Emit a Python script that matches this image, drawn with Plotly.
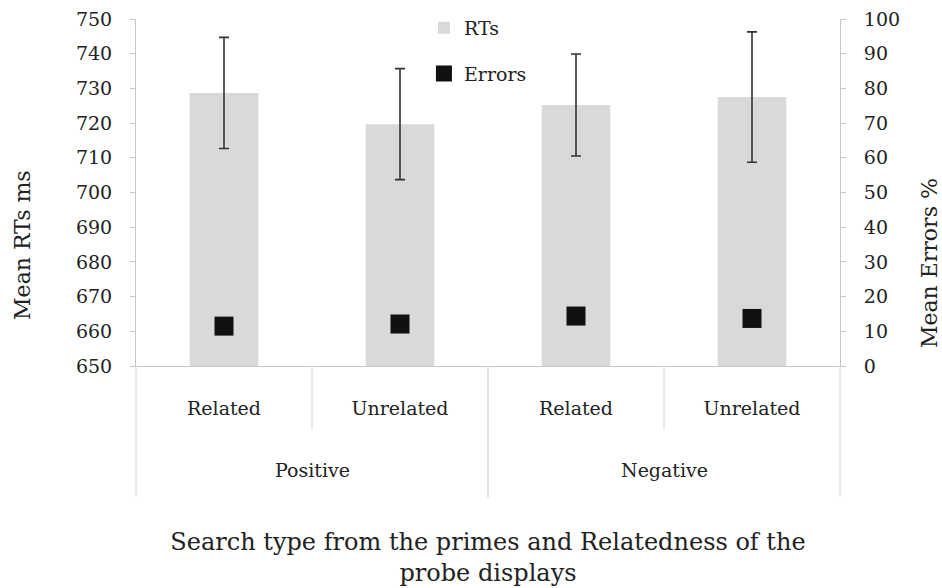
import plotly.graph_objects as go

# Conditions: search type of the primes (outer) and probe relatedness (inner)
search_type = ["Positive", "Positive", "Negative", "Negative"]
relatedness = ["Related", "Unrelated", "Related", "Unrelated"]

# Mean reaction times (ms) with error-bar half lengths
rt_means = [728.7, 719.7, 725.2, 727.5]
rt_err = [16.0, 16.0, 14.7, 18.8]

# Mean error rates (%)
error_rates = [11.5, 12.1, 14.4, 13.7]

rt_ticks = list(range(650, 751, 10))
err_ticks = list(range(0, 101, 10))

FONT = "DejaVu Serif"
TEXT = "#222222"
AXIS = "#c4c4c4"
DIV = "#d6d6d6"

pos = list(range(len(relatedness)))
n = len(pos)

fig = go.Figure()

fig.add_trace(go.Bar(
    x=pos, y=rt_means, name="RTs",
    marker=dict(color="#d9d9d9", line=dict(width=0)),
    width=0.39,
    error_y=dict(type="data", array=rt_err, color="#333333",
                 thickness=1.6, width=5),
    legendgroup="rt",
))

fig.add_trace(go.Scatter(
    x=pos, y=error_rates, name="Errors", yaxis="y2",
    mode="markers",
    marker=dict(symbol="square", size=19, color="#111111"),
    legendgroup="err",
))

# group labels (search type) centred under their pair of conditions
groups = []
for i, g in enumerate(search_type):
    if not groups or groups[-1][0] != g:
        groups.append([g, i, i])
    else:
        groups[-1][2] = i

annotations = []
shapes = []
for g, i0, i1 in groups:
    annotations.append(dict(
        text=g, x=(i0 + i1) / 2, xref="x", y=-0.30, yref="paper",
        showarrow=False, xanchor="center", yanchor="middle",
        font=dict(family=FONT, size=19, color=TEXT)))
    # full-height dividers at group edges
    for edge in (i0, i1 + 1):
        shapes.append(dict(type="line", xref="paper", yref="paper",
                           x0=edge / n, x1=edge / n, y0=0, y1=-0.378,
                           line=dict(color=DIV, width=1)))
    # short dividers between conditions inside a group
    for k in range(i0 + 1, i1 + 1):
        shapes.append(dict(type="line", xref="paper", yref="paper",
                           x0=k / n, x1=k / n, y0=0, y1=-0.184,
                           line=dict(color=DIV, width=1)))

# axis titles
annotations.append(dict(
    text="Mean RTs ms", textangle=-90, x=-0.1605, xref="paper",
    y=0.349, yref="paper", showarrow=False, xanchor="center", yanchor="middle",
    font=dict(family=FONT, size=22, color=TEXT)))
annotations.append(dict(
    text="Mean Errors %", textangle=-90, x=1.128, xref="paper",
    y=0.297, yref="paper", showarrow=False, xanchor="center", yanchor="middle",
    font=dict(family=FONT, size=22, color=TEXT)))

fig.update_layout(
    width=942, height=588,
    margin=dict(l=136, r=102, t=19, b=222, autoexpand=False),
    paper_bgcolor="white", plot_bgcolor="white",
    font=dict(family=FONT, size=19, color=TEXT),
    showlegend=True,
    legend=dict(x=0.409, y=1.029, xanchor="left", yanchor="top",
                font=dict(family=FONT, size=19, color=TEXT),
                tracegroupgap=18, itemsizing="trace",
                bgcolor="rgba(0,0,0,0)"),
    annotations=annotations,
    shapes=shapes,
    xaxis=dict(
        range=[-0.5, n - 0.5], tickvals=pos, ticktext=relatedness,
        showline=True, linecolor=AXIS, linewidth=1,
        showgrid=False, zeroline=False, automargin=False,
        ticks="", ticklabelstandoff=25,
        tickfont=dict(family=FONT, size=19, color=TEXT),
        title=dict(text="Search type from the primes and Relatedness of the<br>probe displays",
                   font=dict(family=FONT, size=24, color=TEXT), standoff=115),
    ),
    yaxis=dict(
        range=[650, 750], tickvals=rt_ticks,
        showline=True, linecolor=AXIS, linewidth=1,
        showgrid=False, zeroline=False, automargin=False,
        ticks="outside", ticklen=5, tickcolor=AXIS,
        ticklabelstandoff=14,
        tickfont=dict(family=FONT, size=19, color=TEXT),
    ),
    yaxis2=dict(
        range=[0, 100], tickvals=err_ticks,
        overlaying="y", side="right",
        showline=True, linecolor=AXIS, linewidth=1,
        showgrid=False, zeroline=False, automargin=False,
        ticks="outside", ticklen=5, tickcolor=AXIS,
        ticklabelstandoff=14,
        tickfont=dict(family=FONT, size=19, color=TEXT),
    ),
)

fig.write_html("out.html")
